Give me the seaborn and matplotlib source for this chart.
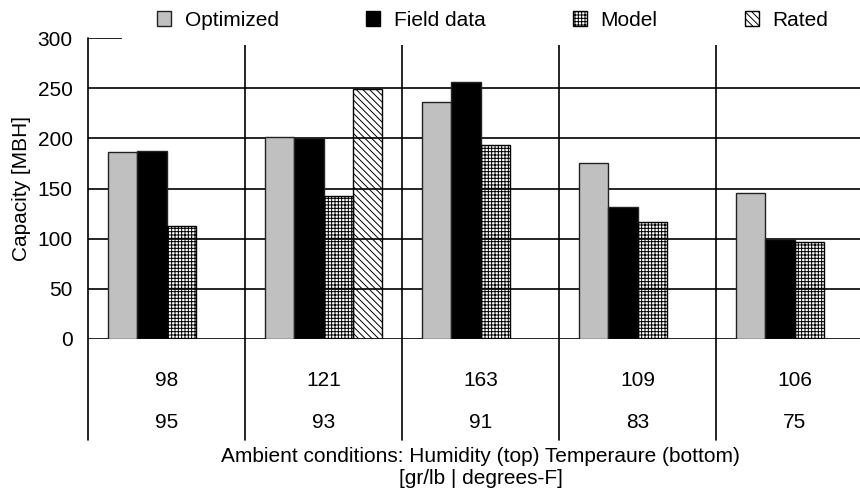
import numpy as np
import pandas as pd
import seaborn as sns
import matplotlib.pyplot as plt
import matplotlib.patches as mpatches

# Chart data
humidity = ['98', '121', '163', '109', '106']
temperature = ['95', '93', '91', '83', '75']
series = ['Optimized', 'Field data', 'Model', 'Rated']
optimized = [186, 201, 236, 175, 146]
field_data = [187, 200, 256, 132, 100]
model = [113, 143, 193, 117, 97]
rated = [np.nan, 249, np.nan, np.nan, np.nan]

sns.set_style('white')
plt.rcParams['font.family'] = ['Liberation Sans', 'DejaVu Sans']
plt.rcParams['text.color'] = 'black'
plt.rcParams['ytick.color'] = 'black'
plt.rcParams['axes.labelcolor'] = 'black'
plt.rcParams['hatch.linewidth'] = 0.7

df = pd.DataFrame({
    'cond': humidity * len(series),
    'series': np.repeat(series, len(humidity)),
    'capacity': optimized + field_data + model + rated,
})

palette = {'Optimized': '#c0c0c0', 'Field data': 'black',
           'Model': 'white', 'Rated': 'white'}
hatches = {'Model': '+++++', 'Rated': '\\\\\\\\\\'}

fig = plt.figure(figsize=(8.6, 4.93), dpi=100)
ax = fig.add_axes([88 / 860, 1 - 339 / 493, 785 / 860, 301 / 493])

sns.barplot(data=df, x='cond', y='capacity', hue='series', order=humidity,
            hue_order=series, palette=palette, width=0.75, errorbar=None,
            edgecolor='#222222', linewidth=1, legend=False, ax=ax, zorder=3)

# Hatched bars are see-through, so grid shows behind them
for cont, name in zip(ax.containers, series):
    if name in hatches:
        for bar in cont:
            bar.set_facecolor('none')
            bar.set_edgecolor('black')
            bar.set_hatch(hatches[name])

ax.set_xlim(-0.5, 4.5)
ax.set_ylim(0, 300)
for s in ax.spines.values():
    s.set_visible(False)

for yv in range(0, 301, 50):
    ax.axhline(yv, color='black', lw=1.2, zorder=1)
for xv in [-0.5, 0.5, 1.5, 2.5, 3.5]:
    ax.axvline(xv, ymin=-0.336, ymax=1, color='black', lw=1.2,
               clip_on=False, zorder=1)

ax.set_yticks(range(0, 301, 50))
ax.tick_params(axis='y', length=0, pad=11, labelsize=15)
ax.set_xticks([])
ax.set_xlabel('')
ax.set_ylabel('Capacity [MBH]', fontsize=15, va='center')
ax.yaxis.set_label_coords(-66 / 785, 0.5)

# Table of ambient conditions under the bars
for i, (h, t) in enumerate(zip(humidity, temperature)):
    ax.text(i, -41, h, ha='center', va='center', fontsize=15, clip_on=False)
    ax.text(i, -83, t, ha='center', va='center', fontsize=15, clip_on=False)

ax.text(0.5, -0.392, 'Ambient conditions: Humidity (top) Temperaure (bottom)',
        transform=ax.transAxes, ha='center', va='center', fontsize=15)
ax.text(0.5, -0.465, '[gr/lb | degrees-F]',
        transform=ax.transAxes, ha='center', va='center', fontsize=15)

# White band behind the legend
fig.add_artist(mpatches.Rectangle(
    (122 / 860, 1 - 45 / 493), 1, 45 / 493, transform=fig.transFigure,
    facecolor='white', edgecolor='none', zorder=2))

handles = [
    mpatches.Patch(facecolor='#c0c0c0', edgecolor='#222222'),
    mpatches.Patch(facecolor='black', edgecolor='black'),
    mpatches.Patch(facecolor='white', edgecolor='black', hatch='+++++'),
    mpatches.Patch(facecolor='white', edgecolor='black', hatch='\\\\\\\\\\'),
]
fig.legend(handles, series, loc='center left',
           bbox_to_anchor=(157 / 860, 1 - 20.5 / 493), ncol=4, frameon=False,
           fontsize=15, handlelength=0.67, handleheight=0.7,
           handletextpad=0.65, columnspacing=4.2, borderpad=0,
           borderaxespad=0)

fig.savefig('out.png', dpi=100)
